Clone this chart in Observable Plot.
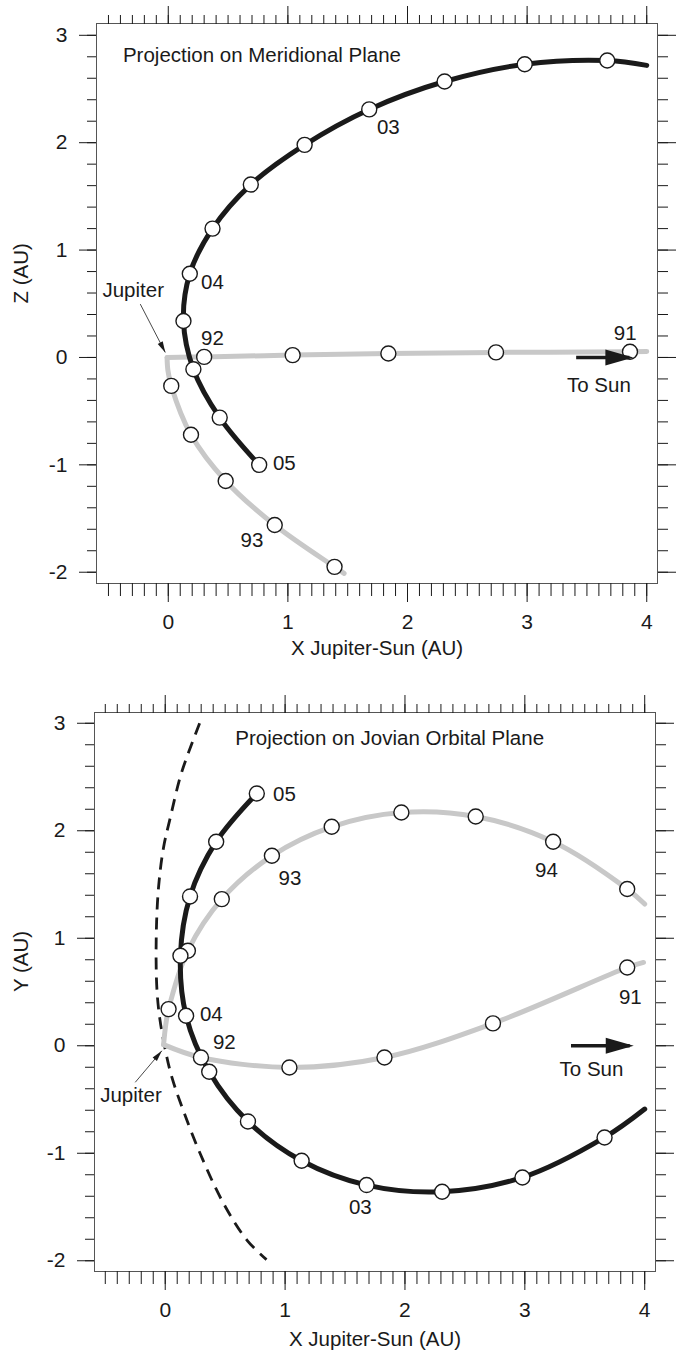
<!DOCTYPE html>
<html><head><meta charset="utf-8">
<script src="https://cdn.jsdelivr.net/npm/d3@7"></script>
<script src="https://cdn.jsdelivr.net/npm/@observablehq/plot@0.6"></script>
<style>
body{margin:0;background:#fff;}
#chart svg{display:block;}
</style></head><body><div id="chart"></div>
<script>
// ---------- axis ticks ----------
const xMajorTicks = [0, 1, 2, 3, 4];
const xMinorTicks = d3.range(-5, 41).map(i => i / 10);
const yMajorTicks = [-2, -1, 0, 1, 2, 3];
const yMinorTicks = d3.range(-10, 16).map(i => i / 5);
const xAxisTitle = "X Jupiter-Sun (AU)";

// ---------- Panel 1: meridional plane (X, Z) ----------
const merTitle = ["Projection on Meridional Plane"];
const merTitleX = [-0.379], merTitleZ = [2.81];
const merYTitle = "Z (AU)";
const merBlackX = [4.00, 3.67, 2.98, 2.31, 1.68, 1.14, 0.69, 0.37, 0.18, 0.127, 0.21, 0.43, 0.76];
const merBlackZ = [2.72, 2.765, 2.73, 2.57, 2.31, 1.98, 1.61, 1.20, 0.78, 0.34, -0.11, -0.56, -1.00];
const merBlackDotX = [3.67, 2.98, 2.31, 1.68, 1.14, 0.69, 0.37, 0.18, 0.127, 0.21, 0.43, 0.76];
const merBlackDotZ = [2.765, 2.73, 2.57, 2.31, 1.98, 1.61, 1.20, 0.78, 0.34, -0.11, -0.56, -1.00];
const merGrayAX = [4.00, 3.86, 2.74, 1.84, 1.04, 0.30, -0.01];
const merGrayAZ = [0.055, 0.053, 0.047, 0.037, 0.022, 0.005, 0.0];
const merGrayBX = [-0.01, -0.003, 0.025, 0.19, 0.48, 0.89, 1.39, 1.47];
const merGrayBZ = [0.0, -0.12, -0.265, -0.72, -1.15, -1.56, -1.95, -2.01];
const merGrayDotX = [3.86, 2.74, 1.84, 1.04, 0.30, 0.025, 0.19, 0.48, 0.89, 1.39];
const merGrayDotZ = [0.053, 0.047, 0.037, 0.022, 0.005, -0.265, -0.72, -1.15, -1.56, -1.95];
const merLabels = ["03", "04", "92", "05", "93", "91"];
const merLabelX = [1.84, 0.37, 0.37, 0.97, 0.70, 3.82];
const merLabelZ = [2.14, 0.70, 0.18, -0.99, -1.70, 0.224];
const merSunText = ["To Sun"], merSunTextX = [3.60], merSunTextZ = [-0.26];
const merSunArrowX = [3.41, 3.855], merSunArrowZ = [0, 0];
const merJupText = ["Jupiter"], merJupTextX = [-0.293], merJupTextZ = [0.62];
const merJupArrowX = [-0.234, -0.025], merJupArrowZ = [0.497, 0.047];

// ---------- Panel 2: Jovian orbital plane (X, Y) ----------
const jovTitle = ["Projection on Jovian Orbital Plane"];
const jovTitleX = [0.584], jovTitleY = [2.862];
const jovYTitle = "Y (AU)";
const jovBlackX = [0.764, 0.425, 0.207, 0.127, 0.174, 0.367, 0.69, 1.138, 1.68, 2.31, 2.98, 3.665, 4.00];
const jovBlackY = [2.347, 1.898, 1.389, 0.837, 0.279, -0.242, -0.704, -1.07, -1.296, -1.358, -1.225, -0.853, -0.589];
const jovBlackDotX = [0.764, 0.425, 0.207, 0.127, 0.174, 0.367, 0.69, 1.138, 1.68, 2.31, 2.98, 3.665];
const jovBlackDotY = [2.347, 1.898, 1.389, 0.837, 0.279, -0.242, -0.704, -1.07, -1.296, -1.358, -1.225, -0.853];
const jovGrayAX = [3.99, 3.854, 2.734, 1.829, 1.036, 0.298, -0.014];
const jovGrayAY = [0.775, 0.728, 0.208, -0.109, -0.202, -0.109, 0.01];
const jovGrayBX = [-0.014, 0.005, 0.028, 0.189, 0.472, 0.89, 1.389, 1.97, 2.59, 3.236, 3.854, 4.00];
const jovGrayBY = [0.01, 0.20, 0.341, 0.884, 1.364, 1.767, 2.037, 2.17, 2.133, 1.898, 1.458, 1.318];
const jovGrayDotX = [3.854, 2.734, 1.829, 1.036, 0.298, 0.028, 0.189, 0.472, 0.89, 1.389, 1.97, 2.59, 3.236, 3.854];
const jovGrayDotY = [0.728, 0.208, -0.109, -0.202, -0.109, 0.341, 0.884, 1.364, 1.767, 2.037, 2.17, 2.133, 1.898, 1.458];
const jovOrbitX = [0.287, 0.195, 0.125, 0.042, -0.014, -0.056, -0.075, -0.07, -0.045, 0.008, 0.056, 0.13, 0.293, 0.488, 0.683, 0.845];
const jovOrbitY = [3.0, 2.73, 2.5, 2.12, 1.845, 1.47, 1.01, 0.54, 0.25, -0.077, -0.295, -0.54, -1.007, -1.47, -1.81, -1.99];
const jovLabels = ["05", "93", "94", "91", "04", "92", "03"];
const jovLabelX = [0.995, 1.04, 3.18, 3.88, 0.385, 0.493, 1.628];
const jovLabelY = [2.34, 1.56, 1.63, 0.45, 0.288, 0.03, -1.504];
const jovSunText = ["To Sun"], jovSunTextX = [3.556], jovSunTextY = [-0.217];
const jovSunArrowX = [3.385, 3.875], jovSunArrowY = [0, 0];
const jovJupText = ["Jupiter"], jovJupTextX = [-0.286], jovJupTextY = [-0.465];
const jovJupArrowX = [-0.25, -0.028], jovJupArrowY = [-0.34, -0.047];

// ---------- helpers ----------
const pts = (xs, ys) => xs.map((x, i) => ({x, y: ys[i]}));
const FONT = "'Liberation Sans', Arial, Helvetica, sans-serif";
const INK = "#1a1a1a";
const GRAY = "#c8c8c8";
const TICK_FS = 21;
const LAB_FS = 20.5;
const fmt = d => String(d);

function arrowHead(len, half, over) {
  return (color, context) => {
    const doc = context.document;
    const ns = "http://www.w3.org/2000/svg";
    const m = doc.createElementNS(ns, "marker");
    m.setAttribute("viewBox", `${-len} ${-half} ${len + over} ${2 * half}`);
    m.setAttribute("markerWidth", len + over);
    m.setAttribute("markerHeight", 2 * half);
    m.setAttribute("markerUnits", "userSpaceOnUse");
    m.setAttribute("refX", 0);
    m.setAttribute("refY", 0);
    m.setAttribute("orient", "auto");
    m.setAttribute("overflow", "visible");
    const p = doc.createElementNS(ns, "path");
    p.setAttribute("d", `M${-len},${-half}L${over},0L${-len},${half}Z`);
    p.setAttribute("fill", color);
    p.setAttribute("stroke", "none");
    m.appendChild(p);
    return m;
  };
}

function frameAxes(xTitleDy, yTitleDx, yTitle) {
  return [
    Plot.frame({stroke: "#555", strokeWidth: 1}),
    Plot.axisX(xMinorTicks, {anchor: "bottom", tickSize: 13, fill: "none", label: null, stroke: INK}),
    Plot.axisX(xMajorTicks, {anchor: "bottom", tickSize: 19, tickPadding: 12, fontSize: TICK_FS, tickFormat: fmt, label: null, stroke: INK, fill: INK}),
    Plot.axisX(xMinorTicks, {anchor: "top", tickSize: 9, fill: "none", label: null, stroke: INK}),
    Plot.axisX(xMajorTicks, {anchor: "top", tickSize: 18, fill: "none", label: null, stroke: INK}),
    Plot.axisY(yMinorTicks, {anchor: "left", tickSize: 9, fill: "none", label: null, stroke: INK}),
    Plot.axisY(yMajorTicks, {anchor: "left", tickSize: 17, tickPadding: 12, fontSize: TICK_FS, tickFormat: fmt, label: null, stroke: INK, fill: INK}),
    Plot.axisY(yMinorTicks, {anchor: "right", tickSize: 10, fill: "none", label: null, stroke: INK}),
    Plot.axisY(yMajorTicks, {anchor: "right", tickSize: 18, fill: "none", label: null, stroke: INK}),
    Plot.text([xAxisTitle], {frameAnchor: "bottom", dy: xTitleDy, lineAnchor: "middle", fontSize: LAB_FS, fill: INK}),
    Plot.text([yTitle], {frameAnchor: "left", dx: yTitleDx, rotate: -90, lineAnchor: "middle", fontSize: LAB_FS, fill: INK})
  ];
}

const dotStyle = {r: 7.5, fill: "white", stroke: INK, strokeWidth: 1.4};
const labStyle = {fontSize: LAB_FS, fill: INK, lineAnchor: "middle"};

// ---------- Panel 1 ----------
const p1 = Plot.plot({
  width: 683, height: 676,
  marginLeft: 96, marginRight: 26, marginTop: 23, marginBottom: 93,
  style: {fontFamily: FONT, background: "white", overflow: "visible"},
  x: {domain: [-0.6, 4.09], axis: null},
  y: {domain: [-2.105, 3.11], axis: null},
  marks: [
    ...frameAxes(65, -75, merYTitle),
    Plot.line(pts(merGrayAX, merGrayAZ), {x: "x", y: "y", stroke: GRAY, strokeWidth: 5, curve: "catmull-rom"}),
    Plot.line(pts(merGrayBX, merGrayBZ), {x: "x", y: "y", stroke: GRAY, strokeWidth: 5, curve: "catmull-rom"}),
    Plot.line(pts(merBlackX, merBlackZ), {x: "x", y: "y", stroke: INK, strokeWidth: 5, curve: "catmull-rom"}),
    Plot.dot(pts(merGrayDotX, merGrayDotZ), {x: "x", y: "y", ...dotStyle}),
    Plot.dot(pts(merBlackDotX, merBlackDotZ), {x: "x", y: "y", ...dotStyle}),
    Plot.text(merLabels, {x: merLabelX, y: merLabelZ, text: d => d, ...labStyle}),
    Plot.text(merTitle, {x: merTitleX, y: merTitleZ, text: d => d, textAnchor: "start", ...labStyle}),
    Plot.text(merSunText, {x: merSunTextX, y: merSunTextZ, text: d => d, ...labStyle}),
    Plot.text(merJupText, {x: merJupTextX, y: merJupTextZ, text: d => d, ...labStyle}),
    Plot.link([0], {x1: [merSunArrowX[0]], y1: [merSunArrowZ[0]], x2: [merSunArrowX[1]], y2: [merSunArrowZ[1]], stroke: INK, strokeWidth: 3.5, markerEnd: arrowHead(24, 8, 4)}),
    Plot.link([0], {x1: [merJupArrowX[0]], y1: [merJupArrowZ[0]], x2: [merJupArrowX[1]], y2: [merJupArrowZ[1]], stroke: INK, strokeWidth: 0.8, markerEnd: arrowHead(11, 2.8, 0)})
  ]
});

// ---------- Panel 2 ----------
const p2 = Plot.plot({
  width: 683, height: 677,
  marginLeft: 94, marginRight: 28, marginTop: 36, marginBottom: 82,
  style: {fontFamily: FONT, background: "white", overflow: "visible"},
  x: {domain: [-0.59, 4.09], axis: null},
  y: {domain: [-2.1, 3.1], axis: null},
  marks: [
    ...frameAxes(68, -73, jovYTitle),
    Plot.line(pts(jovOrbitX, jovOrbitY), {x: "x", y: "y", stroke: INK, strokeWidth: 2.8, strokeDasharray: "12,8", strokeLinecap: "butt", curve: "catmull-rom"}),
    Plot.line(pts(jovGrayAX, jovGrayAY), {x: "x", y: "y", stroke: GRAY, strokeWidth: 5, curve: "catmull-rom"}),
    Plot.line(pts(jovGrayBX, jovGrayBY), {x: "x", y: "y", stroke: GRAY, strokeWidth: 5, curve: "catmull-rom"}),
    Plot.line(pts(jovBlackX, jovBlackY), {x: "x", y: "y", stroke: INK, strokeWidth: 5, curve: "catmull-rom"}),
    Plot.dot(pts(jovGrayDotX, jovGrayDotY), {x: "x", y: "y", ...dotStyle}),
    Plot.dot(pts(jovBlackDotX, jovBlackDotY), {x: "x", y: "y", ...dotStyle}),
    Plot.text(jovLabels, {x: jovLabelX, y: jovLabelY, text: d => d, ...labStyle}),
    Plot.text(jovTitle, {x: jovTitleX, y: jovTitleY, text: d => d, textAnchor: "start", ...labStyle}),
    Plot.text(jovSunText, {x: jovSunTextX, y: jovSunTextY, text: d => d, ...labStyle}),
    Plot.text(jovJupText, {x: jovJupTextX, y: jovJupTextY, text: d => d, ...labStyle}),
    Plot.link([0], {x1: [jovSunArrowX[0]], y1: [jovSunArrowY[0]], x2: [jovSunArrowX[1]], y2: [jovSunArrowY[1]], stroke: INK, strokeWidth: 3.5, markerEnd: arrowHead(24, 8, 4)}),
    Plot.link([0], {x1: [jovJupArrowX[0]], y1: [jovJupArrowY[0]], x2: [jovJupArrowX[1]], y2: [jovJupArrowY[1]], stroke: INK, strokeWidth: 0.8, markerEnd: arrowHead(11, 2.8, 0)})
  ]
});

const chart = document.getElementById("chart");
chart.appendChild(p1);
chart.appendChild(p2);
</script>
</body></html>
